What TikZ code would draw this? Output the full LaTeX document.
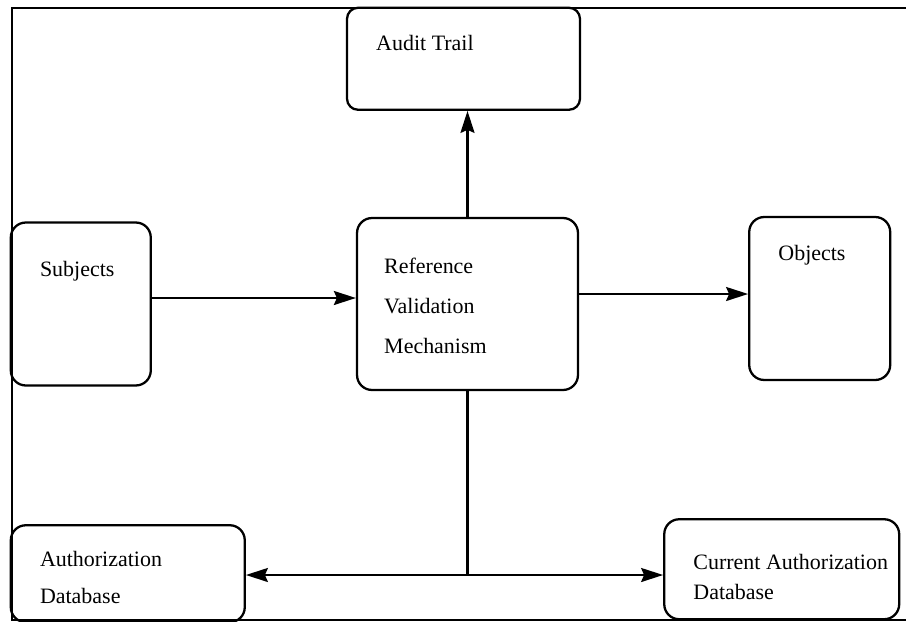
\documentclass[tikz,border=0pt]{standalone}
\usepackage{fontspec}
\setmainfont{Liberation Serif}
\usetikzlibrary{arrows.meta, positioning}
\tikzstyle{block} = [rectangle, rounded corners=0.3cm, draw, line width=1.3pt]
\tikzstyle{caption} = [anchor=base west, inner sep=0pt, align=left, font=\fontsize{12.5}{15}\selectfont]
\tikzstyle{cable} = [line width=1.2pt, -{Stealth[length=0.44cm, width=0.28cm, inset=0.06cm]}]
\tikzstyle{twoway} = [line width=1.2pt, {Stealth[length=0.44cm, width=0.28cm, inset=0.06cm]}-{Stealth[length=0.44cm, width=0.28cm, inset=0.06cm]}]

\begin{document}
\begin{tikzpicture}[x=0.02cm, y=-0.02cm]
  \useasboundingbox (0,0) rectangle (906,622);
  \draw [line width=1.4pt] (906,8) -- (12,8) -- (12,620) -- (906,620);
  \node (rvm) [block, minimum width=4.42cm, minimum height=3.44cm] at (467.5,304) {};
  \node (audit) [block, rounded corners=0.22cm, minimum width=4.66cm, minimum height=2.04cm, above = 2.12cm of rvm, xshift=-0.08cm] {};
  \node (subj) [block, minimum width=2.8cm, minimum height=3.26cm, left = 4.08cm of rvm] {};
  \node (obj) [block, minimum width=2.82cm, minimum height=3.26cm, right = 3.38cm of rvm, yshift=0.11cm] {};
  \node (authdb) [block, minimum width=4.68cm, minimum height=1.94cm, below left = 2.66cm and 2.2cm of rvm] {};
  \node (curdb) [block, minimum width=4.7cm, minimum height=2cm, below right = 2.54cm and 1.68cm of rvm] {};
  % texts (multi-line texts sit on their last line)
  \node (audittxt) [caption] at ([shift={(30,44)}]audit.north west) {Audit Trail};
  \node (subjtxt) [caption] at ([shift={(30,55)}]subj.north west) {Subjects};
  \node (rvmtxt) [caption, font=\fontsize{12.5}{23}\selectfont] at ([shift={(28,137)}]rvm.north west) {Reference\\Validation\\Mechanism};
  \node (objtxt) [caption] at ([shift={(30,45)}]obj.north west) {Objects};
  \node (authtxt) [caption, font=\fontsize{12.5}{21}\selectfont] at ([shift={(30,79)}]authdb.north west) {Authorization\\Database};
  \node (curtxt) [caption, font=\fontsize{12.5}{17}\selectfont] at ([shift={(30,81)}]curdb.north west) {Current Authorization\\Database};
  % connectors
  \coordinate (jn) at (rvm.south |- 0,575);
  \draw [cable] ([yshift=0.12cm]subj.east) -- ([yshift=0.12cm]subj.east -| rvm.west);
  \draw [cable] ([yshift=0.2cm]rvm.east) -- ([yshift=0.2cm]rvm.east -| obj.west);
  \draw [cable] (rvm.north) -- (rvm.north |- audit.south);
  \draw [line width=1.2pt] (rvm.south) -- (jn);
  \draw [twoway] (jn -| authdb.east) -- (jn -| curdb.west);
\end{tikzpicture}
\end{document}
